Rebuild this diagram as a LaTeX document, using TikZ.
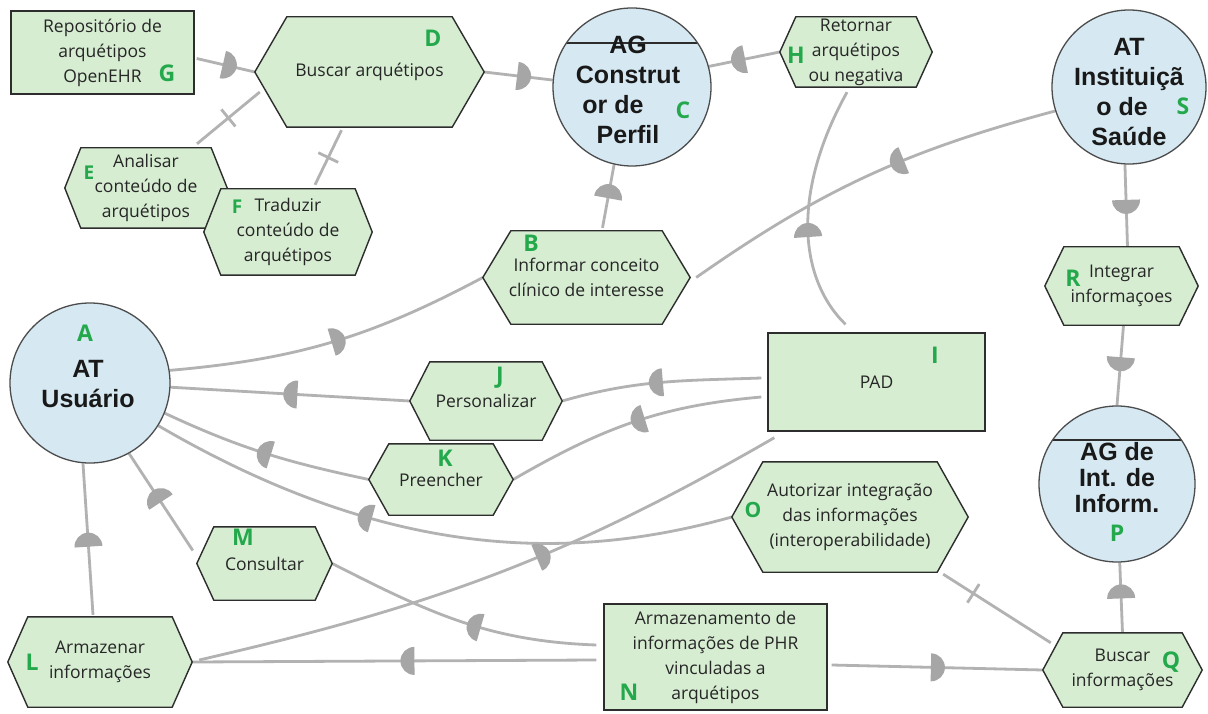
\documentclass[tikz,border=0pt]{standalone}
\usepackage{fontspec}
\setmainfont{Open Sans}
\newfontfamily\actorfont{Liberation Sans}
\usetikzlibrary{calc,decorations.markings}

\definecolor{nodegreen}{RGB}{214,237,210}
\definecolor{actorblue}{RGB}{214,233,243}
\definecolor{lettergreen}{RGB}{36,168,76}
\definecolor{linkgray}{RGB}{178,178,178}
\definecolor{markgray}{RGB}{166,166,166}
\definecolor{outline}{RGB}{45,45,45}

\pgfdeclarelayer{canvasbg}
\pgfdeclarelayer{edges}
\pgfdeclarelayer{shapes}
\pgfsetlayers{canvasbg,edges,shapes,main}

\tikzset{
  txt/.style={font=\fontsize{17.5}{25}\selectfont, align=center, inner sep=0pt, text=black!85},
  hexbox/.style={txt},
  hexline/.style={fill=nodegreen, draw=outline, line width=1.4pt, line join=miter},
  rectnode/.style={txt, draw=outline, fill=nodegreen, line width=1.4pt},
  actor/.style={circle, draw=outline!85, fill=actorblue, line width=1.3pt, inner sep=0pt},
  agent/.style={actor, path picture={\draw[outline, line width=1.2pt]
      ($(path picture bounding box.center)+(-90,-44)$) -- ++(180,0);}},
  actortext/.style={font=\actorfont\bfseries\fontsize{25}{30}\selectfont, align=center, inner sep=0pt, text=black!90},
  letter/.style={font=\bfseries\fontsize{23}{23}\selectfont, text=lettergreen, inner sep=0pt},
  smallletter/.style={letter, font=\bfseries\fontsize{19}{19}\selectfont},
  linkline/.style={draw=linkgray, line width=2.8pt},
  deplink/.style={linkline, postaction={decorate, decoration={markings,
      mark=at position #1 with {\fill[markgray] (0pt,-14pt) arc[start angle=-90, end angle=90, radius=14pt] -- cycle;}}}},
  deplink/.default=0.5,
  decomplink/.style={linkline, postaction={decorate, decoration={markings,
      mark=at position #1 with {\draw[linkgray, line width=2.8pt] (0pt,-11pt) -- (0pt,11pt);}}}},
  decomplink/.default=0.5,
}

% hexagonal task outline around a rectangular node
\newcommand\hexoutline[2]{%
  \begin{pgfonlayer}{shapes}
    \filldraw[hexline] (#1.west) -- ($(#1.north west)+(#2,0)$) -- ($(#1.north east)+(-#2,0)$)
      -- (#1.east) -- ($(#1.south east)+(-#2,0)$) -- ($(#1.south west)+(#2,0)$) -- cycle;
  \end{pgfonlayer}}

\begin{document}
\begin{tikzpicture}[x=1pt, y=-1pt]
\useasboundingbox (0,0) rectangle (1208,714);
\begin{pgfonlayer}{canvasbg}
  \fill[white] (0,0) rectangle (1208,714);
\end{pgfonlayer}

% resources
\node[rectnode, minimum width=183pt, minimum height=83pt] (G) at (102.5,52.5) {Repositório de\\arquétipos\\OpenEHR};
\node[rectnode, minimum width=217pt, minimum height=98pt] (I) at (876.5,382) {PAD};
\node[rectnode, minimum width=223pt, minimum height=106pt] (N) at (715.5,657) {Armazenamento de\\informações de PHR\\vinculadas a\\arquétipos};

% tasks
\node[hexbox, minimum width=229pt, minimum height=110pt] (D) at (369.5,72) {Buscar arquétipos};
\hexoutline{D}{32}
\node[hexbox, minimum width=152pt, minimum height=70pt] (H) at (856,52) {Retornar\\arquétipos\\ou negativa};
\hexoutline{H}{16}
\node[hexbox, minimum width=162pt, minimum height=80pt] (E) at (146,188) {Analisar\\conteúdo de\\arquétipos};
\hexoutline{E}{16}
\node[hexbox, minimum width=168pt, minimum height=86pt] (F) at (288,232) {Traduzir\\conteúdo de\\arquétipos};
\hexoutline{F}{17}
\node[hexbox, minimum width=207pt, minimum height=93pt] (B) at (586.5,277.5) {Informar conceito\\clínico de interesse};
\hexoutline{B}{28}
\node[hexbox, minimum width=152pt, minimum height=78pt] (J) at (486,401) {Personalizar};
\hexoutline{J}{20}
\node[hexbox, minimum width=144pt, minimum height=71pt] (K) at (441,479.5) {Preencher};
\hexoutline{K}{20}
\node[hexbox, minimum width=135pt, minimum height=73pt] (M) at (264.5,563.5) {Consultar};
\hexoutline{M}{17}
\node[hexbox, minimum width=184pt, minimum height=90pt] (L) at (100,662) {Armazenar\\informações};
\hexoutline{L}{20}
\node[hexbox, minimum width=153pt, minimum height=78pt] (R) at (1121.5,286) {Integrar\\informaçoes};
\hexoutline{R}{19}
\node[hexbox, minimum width=159pt, minimum height=74pt] (Q) at (1122.5,670) {Buscar\\informações};
\hexoutline{Q}{20}
\node[hexbox, minimum width=236pt, minimum height=110pt] (O) at (850,517) {Autorizar integração\\das informações\\(interoperabilidade)};
\hexoutline{O}{31}

% actors and agents
\node[actor, minimum size=160pt] (A) at (90,383) {};
\node[actortext] (Atxt) at (88,384) {AT\\Usuário};
\node[agent, minimum size=158pt] (C) at (632,87) {};
\node[actortext] (Ctxt) at (628,90) {AG\\Construt\\or de\makebox[30pt]{}\\Perfil};
\node[actor, minimum size=154pt] (S) at (1129,87) {};
\node[actortext] (Stxt) at (1129,92) {AT\\Instituiçã\\o de\makebox[14pt]{}\\Saúde};
\node[agent, minimum size=156pt] (P) at (1117,484) {};
\node[actortext, font=\actorfont\bfseries\fontsize{25}{26}\selectfont] (Ptxt) at (1117,478) {AG de\\Int. de\\Inform.};

% element letters
\node[letter] (lG) at (167,73) {G};
\node[letter] (lD) at (433,38) {D};
\node[letter] (lC) at (683,110) {C};
\node[letter] (lH) at (796,55) {H};
\node[letter] (lS) at (1183,106) {S};
\node[smallletter] (lE) at (89,173) {E};
\node[smallletter] (lF) at (237,207) {F};
\node[letter] (lB) at (531,243) {B};
\node[letter] (lA) at (85,333) {A};
\node[letter] (lJ) at (500,378) {J};
\node[letter] (lK) at (445,458) {K};
\node[letter] (lI) at (935,355) {I};
\node[letter] (lR) at (1073,278) {R};
\node[letter] (lP) at (1117,533) {P};
\node[letter] (lM) at (243,537) {M};
\node[letter, font=\bfseries\fontsize{21}{21}\selectfont] (lO) at (753,510) {O};
\node[letter] (lQ) at (1171,662) {Q};
\node[letter] (lL) at (32,662) {L};
\node[letter] (lN) at (629,692) {N};

% dependency links
\begin{pgfonlayer}{edges}
\draw[deplink=0.45] ($(G.east)+(2,6)$) -- (D.west);
\draw[deplink=0.48] (D.east) -- (C.175);
\draw[deplink=0.49] (H.west) -- (C.15);
\draw[decomplink=0.5] ($(E.north)+(51,-4)$) -- ($(D.west)+(5,20)$);
\draw[decomplink=0.5] ($(F.north)+(27,-4)$) -- ($(D.south)+(-28,3)$);
\draw[deplink=0.47] ($(B.north)+(16,-3)$) -- (C.-103);
\draw[deplink=0.5] (A.9) to[out=5, in=208] (B.west);
\draw[deplink=0.47] (J.west) -- (A.-3);
\draw[deplink=0.49] ($(I.west)+(-6,-4)$) to[out=182, in=16] (J.east);
\draw[deplink=0.47] (K.west) to[out=168, in=-25] (A.-22);
\draw[deplink=0.45] ($(I.west)+(-6,15)$) to[out=185, in=30] (K.east);
\draw[deplink=0.61] (O.west) .. controls (560,565) and (380,555) .. (A.-32);
\draw[deplink=0.45] ($(L.north)+(-7,-2)$) -- (A.-95);
\draw[deplink=0.5] ($(M.west)+(-4,-13)$) -- (A.-61);
\draw[deplink=0.42] ($(N.west)+(-7,-12)$) to[out=178, in=-27] (M.east);
\draw[deplink=0.45] ($(N.west)+(-7,3)$) -- (L.east);
\draw[deplink=0.57] ($(L.east)+(7,-2)$) to[out=13, in=210] ($(I.south west)+(7,6)$);
\draw[deplink=0.47] ($(N.east)+(4,8)$) -- (Q.west);
\draw[deplink=0.49] (Q.north) -- (P.-88);
\draw[decomplink=0.28] ($(O.south east)+(-25,2)$) -- ($(Q.north west)+(8,10)$);
\draw[deplink=0.43] (S.-93) -- ($(R.north)+(6,0)$);
\draw[deplink=0.4] ($(R.south)+(2,0)$) -- (P.north);
\draw[deplink=0.4] (S.198) to[out=195, in=35] ($(B.east)+(6,0)$);
\draw[deplink=0.39] ($(I.north)+(-31,-8)$) .. controls (800,280) and (790,195) .. ($(H.south)+(-9,5)$);
\end{pgfonlayer}
\end{tikzpicture}
\end{document}
